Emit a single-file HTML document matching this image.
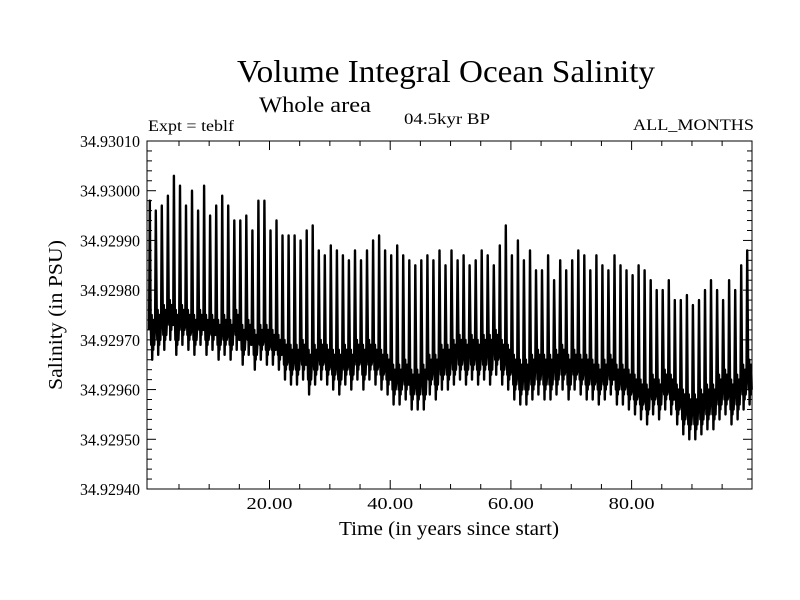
<!DOCTYPE html>
<html><head><meta charset="utf-8"><style>
html,body{margin:0;padding:0;background:#fff;}
svg{display:block;font-family:"Liberation Serif",serif;}
</style></head><body>
<svg id="chart" width="800" height="600" viewBox="0 0 800 600">
<rect width="800" height="600" fill="#fff"/>
<text x="446" y="82" font-size="32" text-anchor="middle" textLength="418" lengthAdjust="spacingAndGlyphs">Volume Integral Ocean Salinity</text>
<text x="259" y="112" font-size="22" textLength="112" lengthAdjust="spacingAndGlyphs">Whole area</text>
<text x="148" y="131" font-size="16" textLength="86" lengthAdjust="spacingAndGlyphs">Expt = teblf</text>
<text x="404" y="124" font-size="16" textLength="86" lengthAdjust="spacingAndGlyphs">04.5kyr BP</text>
<text x="754" y="130" font-size="16" text-anchor="end" textLength="121" lengthAdjust="spacingAndGlyphs">ALL_MONTHS</text>
<text x="449" y="535" font-size="20" text-anchor="middle" textLength="220" lengthAdjust="spacingAndGlyphs">Time (in years since start)</text>
<text transform="translate(62,315) rotate(-90)" font-size="20" text-anchor="middle" textLength="150" lengthAdjust="spacingAndGlyphs">Salinity (in PSU)</text>
<g id="axes"></g>
<path id="series" fill="none" stroke="#000" stroke-width="2.4" stroke-linejoin="round"/>
<rect x="147" y="141" width="605" height="348" fill="none" stroke="#000" stroke-width="1"/>
</svg>
<script>
// values in units of 1e-5 PSU above 34.929
const peaks=[98,96,97,99,103,101,97,100,96,101,95,97,99,97,94,94,95,92,98,98,92,94,91,91,91,90,92,93,88,87,89,88,87,86,88,86,88,90,91,88,87,89,87,86,85,86,87,86,88,85,88,86,87,85,86,88,87,85,89,93,87,90,86,88,84,84,87,82,86,84,86,88,87,84,87,85,84,87,85,84,83,85,84,82,80,80,82,78,78,79,77,78,80,82,80,78,82,80,85,88];
const troughs=[66,67,68,70,67,69,68,67,69,67,68,66,67,66,68,65,67,64,66,65,65,64,62,61,61,62,59,61,62,61,60,59,61,60,62,60,62,61,60,59,57,57,58,56,56,56,59,58,60,60,61,62,61,62,61,62,61,63,61,60,58,57,57,58,59,58,58,59,60,58,60,59,58,58,57,58,59,57,57,56,55,54,53,55,54,56,55,53,51,50,50,51,52,52,54,55,53,54,56,57];
const bases=[72,73,74,75,73,74,73,72,73,72,72,71,72,71,73,70,71,69,70,70,69,68,67,66,66,67,65,66,67,66,65,65,66,65,67,66,67,66,65,64,62,62,63,61,61,62,64,64,66,66,67,68,67,68,67,68,68,69,67,66,64,63,63,64,65,64,64,65,66,64,65,64,64,63,62,63,64,62,62,61,60,59,58,60,59,61,60,58,57,56,56,57,58,58,60,61,59,60,62,63];
const yTicks=["34.92940","34.92950","34.92960","34.92970","34.92980","34.92990","34.93000","34.93010"];
const xTicks=[20,40,60,80];
const X0=147,X1=752,Y0=489,Y1=141;
const xs=t=>X0+(t-(-0.3))/(99.95+0.3)*(X1-X0);
const ys=v=>Y0-(v-40)/(110-40)*(Y0-Y1);
const NS="http://www.w3.org/2000/svg";
const ax=document.getElementById('axes');
function mk(tag,attrs){const e=document.createElementNS(NS,tag);for(const k in attrs)e.setAttribute(k,attrs[k]);ax.appendChild(e);return e;}
for(let v=40;v<=110;v+=2){
  const y=ys(v), major=(v%10===0), L=major?9:5;
  const t1=mk('line',{x1:X0,x2:X0+L,y1:y,y2:y,stroke:'#000'});
  
  
  const t2=mk('line',{x1:X1,x2:X1-L,y1:y,y2:y,stroke:'#000'});
  
  
}
yTicks.forEach((s,i)=>{
  const v=40+i*10;
  const t=mk('text',{x:80,y:ys(v)+6,'font-size':17,textLength:60,lengthAdjust:'spacingAndGlyphs'});
  
  
  t.textContent=s;
});
for(let yr=5;yr<100;yr+=5){
  const x=xs(yr), major=(yr%20===0), L=major?9:5;
  const a=mk('line',{x1:x,x2:x,y1:Y0,y2:Y0-L,stroke:'#000'});
  
  
  const b=mk('line',{x1:x,x2:x,y1:Y1,y2:Y1+L,stroke:'#000'});
  
  
}
xTicks.forEach(yr=>{
  const t=mk('text',{x:xs(yr),y:509,'font-size':17,'text-anchor':'middle',textLength:46,lengthAdjust:'spacingAndGlyphs'});
  
  
  t.textContent=yr.toFixed(2);
});
let d='';
for(let i=0;i<peaks.length;i++){
  const b=bases[i], tr=troughs[i];
  const pts=[[i+0.04,b],[i+0.16,peaks[i]],[i+0.3,b+3],[i+0.4,tr+3],[i+0.48,b+3],[i+0.56,tr],[i+0.64,b+1],[i+0.72,tr+2],[i+0.8,b+2],[i+0.9,tr+3]];
  pts.forEach((p,j)=>{d+=(i===0&&j===0?'M':'L')+xs(p[0]).toFixed(1)+','+ys(p[1]).toFixed(1);});
}
document.getElementById('series').setAttribute('d',d);
</script>
</body></html>
